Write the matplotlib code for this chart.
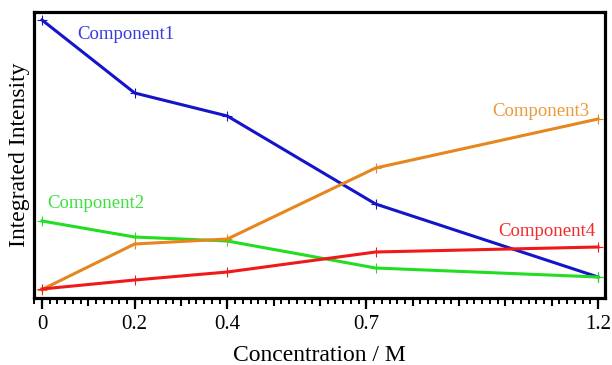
import numpy as np
import matplotlib
matplotlib.use('Agg')
import matplotlib.pyplot as plt
from matplotlib.ticker import MultipleLocator

plt.rcParams['font.family'] = ['Liberation Serif', 'DejaVu Serif']

# concentrations (M)
conc = [0, 0.2, 0.4, 0.72, 1.2]

# integrated intensities (arb. units)
comp1 = [27.8, 20.5, 18.2, 9.4, 2.1]
comp2 = [7.7, 6.1, 5.7, 3.0, 2.1]
comp3 = [0.85, 5.4, 5.9, 13.0, 17.9]
comp4 = [0.9, 1.8, 2.6, 4.6, 5.1]

names = ['Component1', 'Component2', 'Component3', 'Component4']
colors = ['#1414c8', '#22dd22', '#e6861e', '#f01818']
text_colors = ['#3a3ae0', '#3ee03e', '#ea9a3c', '#f42a2a']
label_pos = [(0.076, 26.4), (0.012, 9.5), (0.971, 18.7), (0.984, 6.6)]

tick_vals = [0, 0.2, 0.4, 0.7, 1.2]
tick_labels = ['0', '0.2', '0.4', '0.7', '1.2']

fig = plt.figure(figsize=(6.12, 3.65), dpi=100)
ax = fig.add_axes([34 / 612, 1 - 298 / 365, (605 - 34) / 612, (298 - 12) / 365])

for y, c, tc, name, (lx, ly) in zip([comp1, comp2, comp3, comp4], colors, text_colors, names, label_pos):
    ax.plot(conc, y, color=c, lw=2.2, marker='+', ms=7, mew=0.8)
    ax.text(lx, ly, name, color=tc, fontsize=13.5, ha='left', va='center')

ax.set_xlim(-0.0173, 1.2151)
ax.set_ylim(0, 28.6)

ax.set_xticks(tick_vals)
ax.set_xticklabels(tick_labels, fontsize=15)
ax.xaxis.set_minor_locator(MultipleLocator(1 / 60))
ax.tick_params(axis='x', which='major', direction='out', length=8, width=1.6, pad=4)
ax.tick_params(axis='x', which='minor', direction='out', length=4, width=1.4)
ax.set_yticks([])

# medium ticks every 0.1
sec = ax.secondary_xaxis('bottom')
sec.set_xticks(np.arange(0, 1.21, 0.1))
sec.set_xticklabels([])
sec.tick_params(direction='out', length=6, width=1.5)
sec.spines['bottom'].set_visible(False)

for s in ax.spines.values():
    s.set_linewidth(2.3)

ax.set_xlabel('Concentration / M', fontsize=17, labelpad=8)
ax.set_ylabel('Integrated Intensity', fontsize=17, labelpad=3)

plt.savefig('out.png', dpi=100)
